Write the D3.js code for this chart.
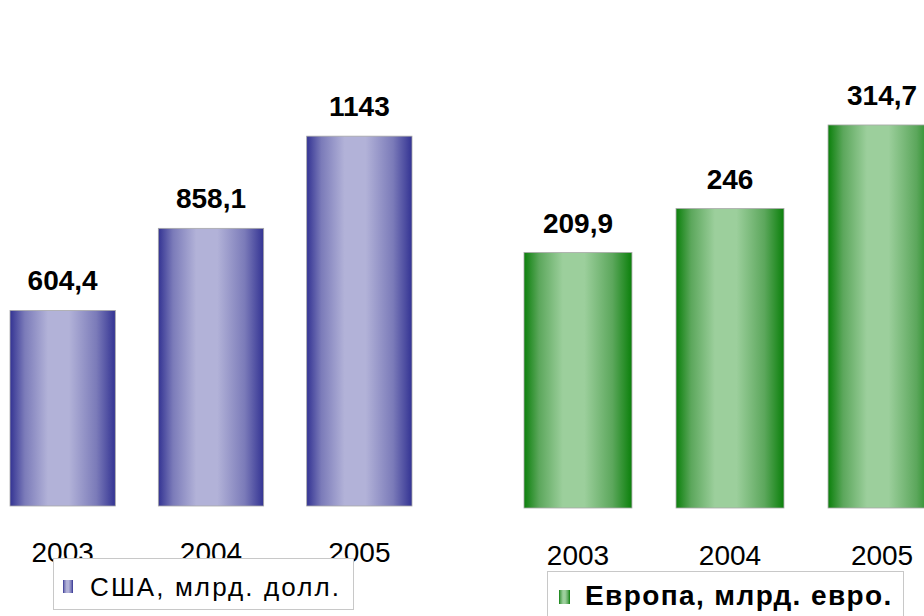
<!DOCTYPE html>
<html><head><meta charset="utf-8">
<script src="https://cdn.jsdelivr.net/npm/d3@7"></script>
<style>body{margin:0;background:#fff}svg{display:block}</style>
</head><body>
<script>
const years = ["2003", "2004", "2005"];
const usaValues = [604.4, 858.1, 1143];
const europeValues = [209.9, 246, 314.7];
const usaLegend = "США, млрд. долл.";
const europeLegend = "Европа, млрд. евро.";

const W = 924, H = 616;
const svg = d3.select("body").append("svg").attr("width", W).attr("height", H);
const defs = svg.append("defs");

function grad(id, dark, mid, light) {
  const g = defs.append("linearGradient").attr("id", id).attr("x1", "0%").attr("x2", "100%").attr("y1", "0%").attr("y2", "0%");
  [[0, dark], [0.14, mid], [0.36, light], [0.56, light], [0.82, mid], [1, dark]].forEach(([o, c]) =>
    g.append("stop").attr("offset", o).attr("stop-color", c));
}
grad("gBlue", "#333393", "#7b7bb9", "#b2b2d8");
grad("gGreen", "#0b800b", "#5ca75c", "#9ccf9c");

const fmt = v => String(v).replace(".", ",");
const font = "Liberation Sans, Arial, sans-serif";

function panel(values, xr, yBottom, yMax, yTopPx, fill, tickPad) {
  const x = d3.scaleBand().domain(years).range(xr).paddingInner(0.29).paddingOuter(0);
  const y = d3.scaleLinear().domain([0, yMax]).range([yBottom, yTopPx]);
  const g = svg.append("g");
  g.selectAll("rect.bar").data(values).join("rect").attr("class", "bar")
    .attr("x", (d, i) => x(years[i])).attr("width", x.bandwidth())
    .attr("y", d => y(d)).attr("height", d => y(0) - y(d))
    .attr("fill", `url(#${fill})`).attr("stroke", "#a8a8a8").attr("stroke-width", 0.8);
  g.selectAll("text.val").data(values).join("text").attr("class", "val")
    .attr("x", (d, i) => x(years[i]) + x.bandwidth() / 2)
    .attr("y", d => y(d) - 20)
    .attr("text-anchor", "middle").attr("font-family", font).attr("font-weight", "bold")
    .attr("font-size", 28).attr("fill", "#000").text(fmt);
  const ax = g.append("g").attr("transform", `translate(0,${yBottom})`)
    .call(d3.axisBottom(x).tickSize(0).tickPadding(tickPad));
  ax.select(".domain").remove();
  ax.selectAll("text").attr("font-family", font).attr("font-size", 28).attr("fill", "#000");
}

panel(usaValues, [10, 412], 506, 1400, 53, "gBlue", 36);
panel(europeValues, [524, 936], 508, 350, 82, "gGreen", 37);

// legends
function legend(x, y, w, h, fill, label, bold, size, ls, tx, ty, ix, iy, iw, ih) {
  const g = svg.append("g");
  g.append("rect").attr("x", x).attr("y", y).attr("width", w).attr("height", h)
    .attr("fill", "#fff").attr("stroke", "#c8c8c8").attr("stroke-width", 1);
  g.append("rect").attr("x", ix).attr("y", iy).attr("width", iw).attr("height", ih)
    .attr("fill", `url(#${fill})`);
  g.append("text").attr("x", tx).attr("y", ty).attr("font-family", font)
    .attr("font-size", size).attr("font-weight", bold ? "bold" : "normal")
    .attr("letter-spacing", ls).attr("fill", "#000").text(label);
}
legend(53.5, 558.5, 300, 51, "gBlue", usaLegend, false, 26, 2.1, 90, 596, 63, 580, 10, 13);
legend(547.5, 571.5, 356, 60, "gGreen", europeLegend, true, 28, 1.4, 585, 605, 559, 590, 11, 14);
</script>
</body></html>
